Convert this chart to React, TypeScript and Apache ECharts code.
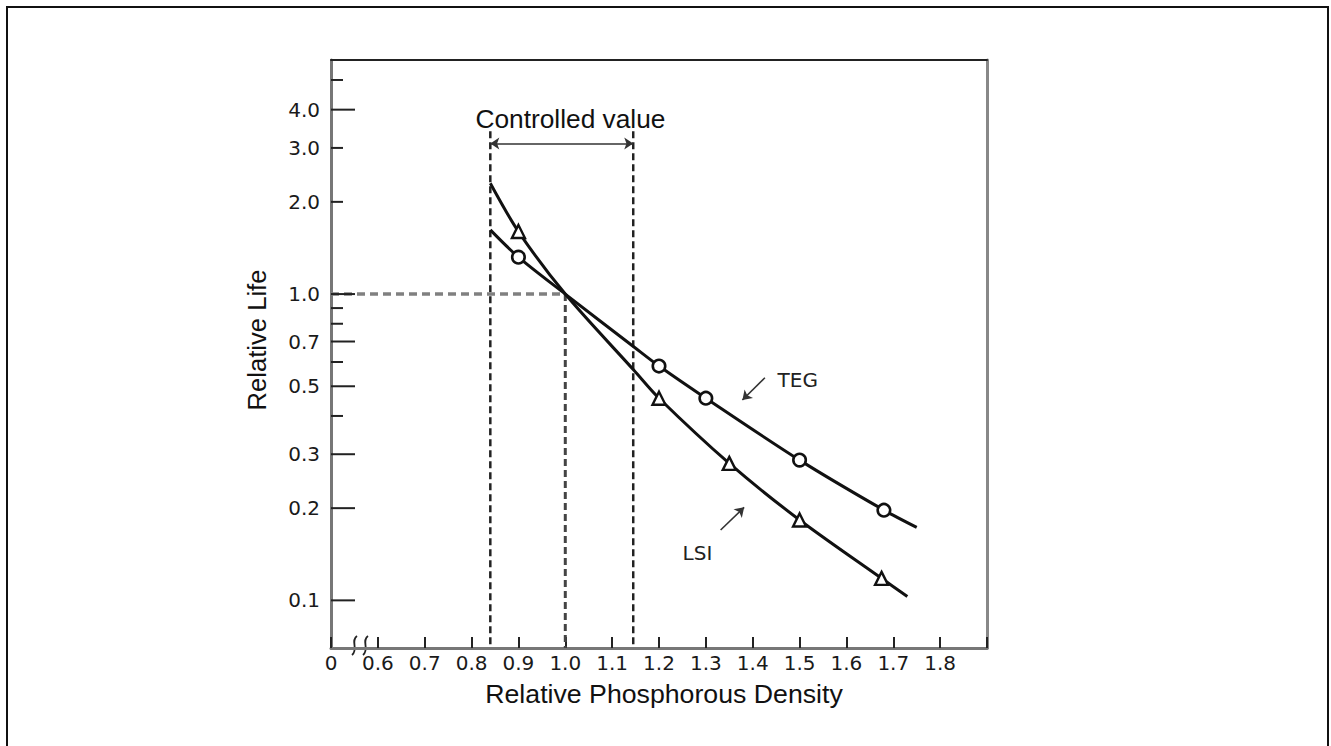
import React, { useEffect, useRef } from 'react';
import * as echarts from 'echarts';

// ---------- data ----------
const X_MIN = 0.5;
const X_MAX = 1.9;
const Y_MIN = 0.0699;
const Y_MAX = 5.81;

const xTickValues = [0.6, 0.7, 0.8, 0.9, 1.0, 1.1, 1.2, 1.3, 1.4, 1.5, 1.6, 1.7, 1.8];
const xOriginLabel = '0';

const yTickValues = [5, 4, 3, 2, 1, 0.9, 0.8, 0.7, 0.6, 0.5, 0.4, 0.3, 0.2, 0.1];
const yTickLabels = ['', '4.0', '3.0', '2.0', '1.0', '', '', '0.7', '', '0.5', '', '0.3', '0.2', '0.1'];
const yTickMajor = [0, 1, 0, 0, 1, 0, 0, 1, 0, 1, 0, 1, 1, 1];

const tegCurveX = [0.84, 0.9, 1.0, 1.146, 1.2, 1.3, 1.5, 1.68, 1.75];
const tegCurveY = [1.62, 1.32, 1.0, 0.673, 0.582, 0.457, 0.287, 0.197, 0.173];
const lsiCurveX = [0.84, 0.9, 1.0, 1.146, 1.2, 1.35, 1.5, 1.675, 1.73];
const lsiCurveY = [2.3, 1.6, 1.0, 0.565, 0.457, 0.28, 0.183, 0.118, 0.103];

const tegPointX = [0.9, 1.2, 1.3, 1.5, 1.68];
const tegPointY = [1.32, 0.582, 0.457, 0.287, 0.197];
const lsiPointX = [0.9, 1.2, 1.35, 1.5, 1.675];
const lsiPointY = [1.6, 0.457, 0.28, 0.183, 0.118];

const controlLow = 0.84;
const controlHigh = 1.145;
const nominalX = 1.0;
const nominalY = 1.0;
const controlTop = 3.4;
const controlArrowY = 3.1;

const tegArrow = [[1.426, 0.533], [1.378, 0.451]];
const lsiArrow = [[1.3315, 0.1697], [1.3817, 0.2012]];
const tegLabelPos = [1.496, 0.524];
const lsiLabelPos = [1.282, 0.1423];
const controlLabelPos = [1.011, 3.73];

// ---------- helpers ----------
const zip = (xs: number[], ys: number[]) => xs.map((x, i) => [x, ys[i]]);
const TICK_FONT = 'DejaVu Sans, sans-serif';
const TITLE_FONT = 'Liberation Sans, Arial, sans-serif';

export default function App() {
  const ref = useRef<HTMLDivElement>(null);

  useEffect(() => {
    if (!ref.current) return;
    const chart = echarts.init(ref.current, undefined, { renderer: 'svg' });

    const dashed = (name: string, data: number[][], color: string, width: number, dash: number[]) => ({
      name,
      type: 'line',
      data,
      symbol: 'none',
      silent: true,
      z: 2,
      lineStyle: { color, width, type: dash },
    });

    const option: any = {
      animation: false,
      backgroundColor: '#ffffff',
      grid: { left: 331, right: 344, top: 60, bottom: 98, containLabel: false, outerBoundsMode: 'none' },
      xAxis: [
        {
          type: 'value',
          min: X_MIN,
          max: X_MAX,
          interval: 0.1,
          axisLine: { show: true, lineStyle: { color: '#777', width: 3 } },
          axisTick: { show: true, inside: true, length: 11, lineStyle: { color: '#222', width: 2 } },
          axisLabel: {
            show: true,
            margin: 5,
            fontFamily: TICK_FONT,
            fontSize: 20,
            color: '#1a1a1a',
            formatter: (v: number) => {
              if (Math.abs(v - X_MIN) < 1e-6) return xOriginLabel;
              const hit = xTickValues.find((t) => Math.abs(t - v) < 1e-6);
              return hit !== undefined ? hit.toFixed(1) : '';
            },
          },
          splitLine: { show: false },
        },
        {
          type: 'value',
          position: 'top',
          min: X_MIN,
          max: X_MAX,
          axisLine: { show: true, lineStyle: { color: '#222', width: 2 } },
          axisTick: { show: false },
          axisLabel: { show: false },
          splitLine: { show: false },
        },
      ],
      yAxis: [
        {
          type: 'log',
          logBase: 10,
          min: Y_MIN,
          max: Y_MAX,
          axisLine: { show: true, lineStyle: { color: '#777', width: 3 } },
          axisTick: { show: false },
          axisLabel: { show: false },
          splitLine: { show: false },
          minorTick: { show: false },
          minorSplitLine: { show: false },
        },
        {
          type: 'value',
          position: 'right',
          min: 0,
          max: 1,
          axisLine: { show: true, lineStyle: { color: '#888', width: 3 } },
          axisTick: { show: false },
          axisLabel: { show: false },
          splitLine: { show: false },
        },
      ],
      series: [
        dashed('Lower control limit', [[controlLow, controlTop], [controlLow, Y_MIN]], '#222', 2.5, [7, 4]),
        dashed('Upper control limit', [[controlHigh, controlTop], [controlHigh, Y_MIN]], '#222', 2.5, [7, 4]),
        dashed('Nominal density', [[nominalX, nominalY], [nominalX, Y_MIN]], '#444', 3, [7, 4]),
        dashed('Nominal life', [[X_MIN, nominalY], [nominalX, nominalY]], '#808080', 3.5, [8, 5]),
        {
          name: 'TEG curve',
          type: 'line',
          data: zip(tegCurveX, tegCurveY),
          smooth: 0.3,
          symbol: 'none',
          silent: true,
          z: 3,
          lineStyle: { color: '#111', width: 3 },
          markLine: {
            silent: true,
            symbol: ['none', 'arrow'],
            symbolSize: 9,
            label: { show: false },
            lineStyle: { color: '#333', width: 1.6, type: 'solid' },
            data: [
              [
                { coord: [controlLow, controlArrowY], symbol: 'arrow' },
                { coord: [controlHigh, controlArrowY], symbol: 'arrow' },
              ],
              [{ coord: tegArrow[0] }, { coord: tegArrow[1] }],
              [{ coord: lsiArrow[0] }, { coord: lsiArrow[1] }],
            ],
          },
          markPoint: {
            silent: true,
            symbol: 'circle',
            symbolSize: 0,
            data: [
              {
                coord: tegLabelPos,
                label: { show: true, position: 'inside', formatter: 'TEG', fontFamily: TICK_FONT, fontSize: 20, color: '#222' },
              },
              {
                coord: lsiLabelPos,
                label: { show: true, position: 'inside', formatter: 'LSI', fontFamily: TICK_FONT, fontSize: 20, color: '#222' },
              },
              {
                coord: controlLabelPos,
                label: { show: true, position: 'inside', formatter: 'Controlled value', fontFamily: TITLE_FONT, fontSize: 26.3, color: '#111' },
              },
            ],
          },
        },
        {
          name: 'LSI curve',
          type: 'line',
          data: zip(lsiCurveX, lsiCurveY),
          smooth: 0.3,
          symbol: 'none',
          silent: true,
          z: 3,
          lineStyle: { color: '#111', width: 3 },
        },
        {
          name: 'TEG',
          type: 'scatter',
          data: zip(tegPointX, tegPointY),
          symbol: 'circle',
          symbolSize: 12.5,
          z: 4,
          itemStyle: { color: '#fff', borderColor: '#111', borderWidth: 2.6, opacity: 1 },
        },
        {
          name: 'LSI',
          type: 'scatter',
          data: zip(lsiPointX, lsiPointY),
          symbol: 'triangle',
          symbolSize: 13,
          z: 4,
          itemStyle: { color: '#fff', borderColor: '#111', borderWidth: 2.4, opacity: 1 },
        },
        {
          name: 'Y ticks',
          type: 'custom',
          silent: true,
          z: 5,
          clip: false,
          data: yTickValues.map((v, i) => [X_MIN, v, yTickMajor[i]]),
          encode: { x: 0, y: 1 },
          renderItem: (params: any, api: any) => {
            const v = api.value(1);
            const major = api.value(2);
            const p = api.coord([X_MIN, v]);
            const len = major ? 24 : 12;
            return {
              type: 'group',
              children: [
                {
                  type: 'line',
                  shape: { x1: p[0], y1: p[1], x2: p[0] + len, y2: p[1] },
                  style: { stroke: '#222', lineWidth: 2 },
                },
                {
                  type: 'text',
                  x: p[0] - 11,
                  y: p[1],
                  style: {
                    text: yTickLabels[params.dataIndex],
                    align: 'right',
                    verticalAlign: 'middle',
                    fontFamily: TICK_FONT,
                    fontSize: 20,
                    fill: '#1a1a1a',
                  },
                },
              ],
            };
          },
        },
      ],
      graphic: [
        {
          type: 'rect',
          silent: true,
          shape: { x: 7, y: 7, width: 1321, height: 800 },
          style: { fill: 'none', stroke: '#111', lineWidth: 2 },
        },
        {
          type: 'bezierCurve',
          silent: true,
          shape: { x1: 357, y1: 636, cpx1: 350, cpy1: 641, cpx2: 359, cpy2: 649, x2: 352, y2: 655 },
          style: { stroke: '#222', lineWidth: 1.8, fill: 'none' },
        },
        {
          type: 'bezierCurve',
          silent: true,
          shape: { x1: 368, y1: 636, cpx1: 361, cpy1: 641, cpx2: 370, cpy2: 649, x2: 363, y2: 655 },
          style: { stroke: '#222', lineWidth: 1.8, fill: 'none' },
        },
        {
          type: 'text',
          silent: true,
          x: 664,
          y: 694,
          style: {
            text: 'Relative Phosphorous Density',
            align: 'center',
            verticalAlign: 'middle',
            fontFamily: TITLE_FONT,
            fontSize: 26.7,
            fill: '#111',
          },
        },
        {
          type: 'text',
          silent: true,
          x: 257,
          y: 340,
          rotation: Math.PI / 2,
          style: {
            text: 'Relative Life',
            align: 'center',
            verticalAlign: 'middle',
            fontFamily: TITLE_FONT,
            fontSize: 25.6,
            fill: '#111',
          },
        },
      ],
    };

    chart.setOption(option);
    return () => chart.dispose();
  }, []);

  return (
    <div
      ref={ref}
      style={{ position: 'fixed', left: 0, top: 0, width: 1331, height: 746, background: '#fff' }}
    />
  );
}
